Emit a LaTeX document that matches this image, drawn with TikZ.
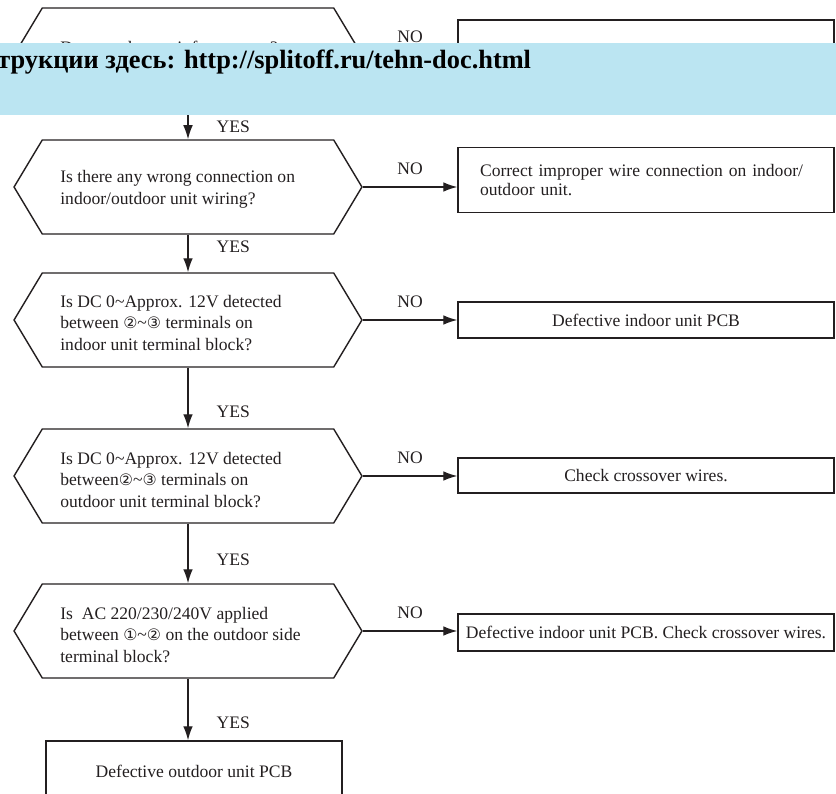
\documentclass[tikz,border=0pt]{standalone}
\usepackage{fontspec}
\setmainfont{Liberation Serif}
\newfontfamily\circfont{DejaVu Sans}
\usetikzlibrary{positioning,shapes.symbols,arrows.meta}
\definecolor{banner}{RGB}{187,229,242}
\definecolor{ink}{RGB}{35,31,32}
\newcommand{\cnum}[1]{{\circfont\fontsize{9}{10}\selectfont #1}}
\newcommand{\tld}{\textasciitilde}

\begin{document}
\begin{tikzpicture}[x=0.02cm,y=-0.02cm,
  hexbox/.style={draw=ink,line width=0.8pt,shape=signal,signal to=west and east,
    signal pointer angle=118,minimum width=6.96cm,minimum height=1.88cm,inner sep=0pt},
  qtext/.style={align=left,inner sep=0pt,anchor=west,text=ink,font=\fontsize{10}{12.4}\selectfont},
  resbox/.style={draw=ink,line width=0.8pt,inner sep=0pt,text=ink,font=\fontsize{10}{10.8}\selectfont},
  arr/.style={draw=ink,line width=0.8pt,-{Latex[length=8pt,width=5.5pt]}},
  yeslbl/.style={inner sep=0pt,anchor=west,xshift=0.56cm,text=ink,font=\fontsize{10}{12}\selectfont},
  nolbl/.style={inner sep=0pt,midway,above=0.24cm,text=ink,font=\fontsize{10}{12}\selectfont}]
  \useasboundingbox (0,0) rectangle (836,794);

  % questions
  \node[hexbox] (q1) at (188,55) {};
  \node[hexbox] (q2) at (188,187) {};
  \node[hexbox] (q3) at (188,320) {};
  \node[hexbox] (q4) at (188,476) {};
  \node[hexbox] (q5) at (188,631) {};
  \node[qtext] (t1) at (60,49) {Does outdoor unit fan operate?};
  \node[qtext] (t2) at (60,189) {Is there any wrong connection on\\indoor/outdoor unit wiring?};
  \node[qtext] (t3) at (60,323) {Is DC 0\tld Approx. 12V detected\\between \cnum{②}\tld\cnum{③} terminals on\\indoor unit terminal block?};
  \node[qtext] (t4) at (60,480) {Is DC 0\tld Approx. 12V detected\\between\cnum{②}\tld\cnum{③} terminals on\\outdoor unit terminal block?};
  \node[qtext] (t5) at (60,635) {Is\ \ AC 220/230/240V applied\\between \cnum{①}\tld\cnum{②} on the outdoor side\\terminal block?};

  % results
  \node[resbox,minimum width=7.52cm,minimum height=1.4cm] (b1) at (646,55) {};
  \node[resbox,text width=6.64cm,align=left,inner xsep=0.44cm,minimum height=1.3cm] (b2) at (646,180)
    {Correct improper wire connection on indoor/\\outdoor unit.};
  \node[resbox,minimum width=7.52cm,minimum height=0.72cm] (b3) at (646,320) {Defective indoor unit PCB};
  \node[resbox,minimum width=7.52cm,minimum height=0.7cm] (b4) at (646,475.5) {Check crossover wires.};
  \node[resbox,minimum width=7.52cm,minimum height=0.74cm] (b5) at (646,632.5) {Defective indoor unit PCB. Check crossover wires.};
  \node[resbox,minimum width=5.92cm,minimum height=1.2cm] (b6) at (194,771) {Defective outdoor unit PCB};

  % YES branches
  \draw[arr] (q1.south) -- node[yeslbl,pos=.67] {YES} (q2.north);
  \draw[arr] (q2.south) -- node[yeslbl,pos=.32] {YES} (q3.north);
  \draw[arr] (q3.south) -- node[yeslbl,pos=.73] {YES} (q4.north);
  \draw[arr] (q4.south) -- node[yeslbl,pos=.61] {YES} (q5.north);
  \draw[arr] (q5.south) -- node[yeslbl,pos=.71] {YES} (q5.south |- b6.north);

  % NO branches
  \draw[arr] (q1.east) -- node[nolbl] {NO} (q1.east -| b1.west);
  \draw[arr] (q2.east) -- node[nolbl] {NO} (q2.east -| b2.west);
  \draw[arr] (q3.east) -- node[nolbl] {NO} (q3.east -| b3.west);
  \draw[arr] (q4.east) -- node[nolbl] {NO} (q4.east -| b4.west);
  \draw[arr] (q5.east) -- node[nolbl] {NO} (q5.east -| b5.west);

  % banner on top
  \fill[banner] (0,43) rectangle (836,115);
  \node[inner sep=0pt,anchor=west,font=\fontsize{15}{17}\selectfont\bfseries] (ad) at (-3,62)
    {трукции здесь: http://splitoff.ru/tehn-doc.html};
\end{tikzpicture}
\end{document}
